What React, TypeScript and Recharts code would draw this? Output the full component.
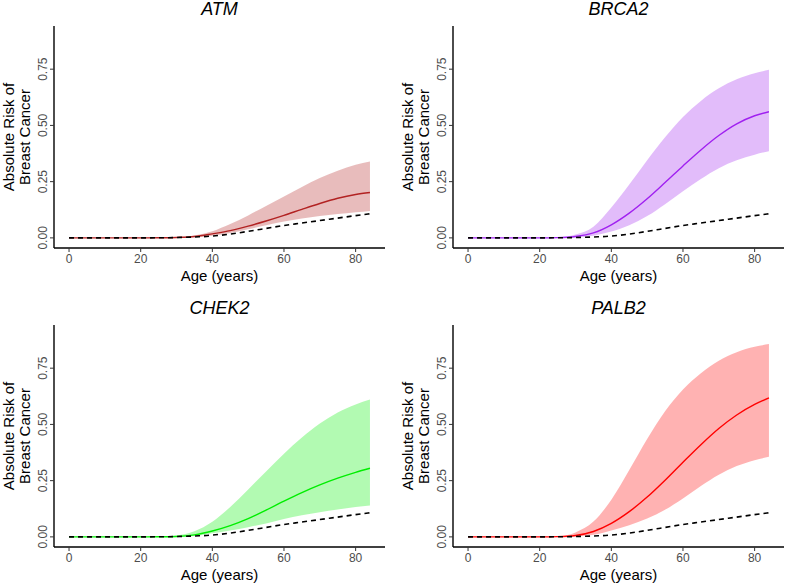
import { ComposedChart, Area, Line, XAxis, YAxis } from "recharts";

// age grid (years)
const ages = [0, 5, 10, 15, 20, 25, 30, 35, 40, 45, 50, 55, 60, 65, 70, 75, 80, 84];

// general population (dashed)
const baseline = [0, 0, 0, 0, 0, 0.0005, 0.0015, 0.004, 0.008, 0.017, 0.029, 0.042, 0.055, 0.066, 0.077, 0.088, 0.099, 0.107];

const atmMid = [0, 0, 0, 0, 0, 0.0005, 0.002, 0.006, 0.018, 0.032, 0.052, 0.075, 0.1, 0.127, 0.153, 0.176, 0.193, 0.202];
const atmLo = [0, 0, 0, 0, 0, 0.0003, 0.001, 0.003, 0.01, 0.022, 0.038, 0.056, 0.073, 0.086, 0.097, 0.106, 0.114, 0.12];
const atmHi = [0, 0, 0, 0, 0, 0.001, 0.003, 0.011, 0.03, 0.062, 0.1, 0.142, 0.184, 0.226, 0.266, 0.298, 0.325, 0.34];

const brca2Mid = [0, 0, 0, 0, 0, 0.001, 0.006, 0.022, 0.058, 0.11, 0.174, 0.246, 0.32, 0.391, 0.455, 0.507, 0.543, 0.561];
const brca2Lo = [0, 0, 0, 0, 0, 0.0005, 0.002, 0.01, 0.028, 0.056, 0.097, 0.15, 0.207, 0.262, 0.31, 0.345, 0.37, 0.385];
const brca2Hi = [0, 0, 0, 0, 0, 0.002, 0.015, 0.05, 0.135, 0.237, 0.345, 0.447, 0.537, 0.609, 0.665, 0.705, 0.732, 0.747];

const chek2Mid = [0, 0, 0, 0, 0, 0.0005, 0.002, 0.009, 0.026, 0.05, 0.081, 0.119, 0.159, 0.197, 0.231, 0.261, 0.287, 0.305];
const chek2Lo = [0, 0, 0, 0, 0, 0.0003, 0.001, 0.004, 0.016, 0.028, 0.043, 0.06, 0.079, 0.096, 0.11, 0.122, 0.133, 0.14];
const chek2Hi = [0, 0, 0, 0, 0, 0.001, 0.006, 0.025, 0.067, 0.133, 0.211, 0.291, 0.37, 0.442, 0.504, 0.553, 0.589, 0.611];

const palb2Mid = [0, 0, 0, 0, 0, 0.001, 0.006, 0.024, 0.06, 0.112, 0.177, 0.252, 0.332, 0.41, 0.482, 0.542, 0.589, 0.618];
const palb2Lo = [0, 0, 0, 0, 0, 0.0005, 0.002, 0.009, 0.028, 0.052, 0.082, 0.121, 0.171, 0.226, 0.276, 0.315, 0.341, 0.356];
const palb2Hi = [0, 0, 0, 0, 0, 0.002, 0.02, 0.068, 0.165, 0.297, 0.435, 0.558, 0.655, 0.728, 0.783, 0.821, 0.845, 0.857];

const xTicks = [0, 20, 40, 60, 80];
const yTicks = [0, 0.25, 0.5, 0.75];

const FONT = "'Liberation Sans', Arial, sans-serif";
const W = 399;
const H = 290;
const PLOT_L = 54;
const PLOT_T = 26;
const PLOT_R = 14;
const X_H = 42;

function YTick(props: any) {
  const { x, y, payload } = props;
  return (
    <text transform={`translate(${x},${y}) rotate(-90)`} textAnchor="middle" fill="#4d4d4d" fontSize={12} fontFamily={FONT}>
      {Number(payload.value).toFixed(2)}
    </text>
  );
}

// axis titles drawn once, over the chart
function AxisTitles() {
  const cx = PLOT_L + (W - PLOT_L - PLOT_R) / 2;
  const cy = PLOT_T + (H - X_H - PLOT_T) / 2;
  return (
    <svg width={W} height={H} style={{ position: "absolute", left: 0, top: 0, pointerEvents: "none" }}>
      <g fontSize={15} fill="#000" fontFamily={FONT}>
        <text x={cx} y={281} textAnchor="middle">Age (years)</text>
        <text transform={`translate(14,${cy}) rotate(-90)`} textAnchor="middle">Absolute Risk of</text>
        <text transform={`translate(30,${cy}) rotate(-90)`} textAnchor="middle">Breast Cancer</text>
      </g>
    </svg>
  );
}

interface PanelProps {
  title: string;
  color: string;
  mid: number[];
  lo: number[];
  hi: number[];
  left: number;
  top: number;
}

function Panel({ title, color, mid, lo, hi, left, top }: PanelProps) {
  const data = ages.map((a, i) => ({ age: a, band: [lo[i], hi[i]], mid: mid[i], base: baseline[i] }));
  return (
    <div style={{ position: "absolute", left, top, width: W, height: H }}>
      <div
        style={{
          position: "absolute",
          left: PLOT_L,
          width: W - PLOT_L - PLOT_R,
          top: 0,
          textAlign: "center",
          fontStyle: "italic",
          fontSize: 18,
          lineHeight: "18px",
          fontFamily: FONT,
        }}
      >
        {title}
      </div>
      <ComposedChart width={W} height={H} data={data} margin={{ top: PLOT_T, right: PLOT_R, bottom: 0, left: 0 }}>
        <XAxis
          dataKey="age"
          type="number"
          domain={[-4.2, 88.2]}
          ticks={xTicks}
          allowDataOverflow
          height={X_H}
          tickSize={4}
          tickMargin={2}
          axisLine={{ stroke: "#000", strokeWidth: 1.4 }}
          tickLine={{ stroke: "#333" }}
          tick={{ fill: "#4d4d4d", fontSize: 12, fontFamily: FONT }}
        />
        <YAxis
          type="number"
          domain={[-0.045, 0.942]}
          ticks={yTicks}
          allowDataOverflow
          width={PLOT_L}
          tickSize={4}
          tickMargin={3}
          axisLine={{ stroke: "#000", strokeWidth: 1.4 }}
          tickLine={{ stroke: "#333" }}
          tick={<YTick />}
        />
        <Area
          dataKey="band"
          type="monotone"
          stroke="none"
          fill={color}
          fillOpacity={0.3}
          dot={false}
          activeDot={false}
          isAnimationActive={false}
        />
        <Line dataKey="mid" type="monotone" stroke={color} strokeWidth={1.4} dot={false} activeDot={false} isAnimationActive={false} />
        <Line
          dataKey="base"
          type="monotone"
          stroke="#000"
          strokeWidth={1.6}
          strokeDasharray="5 4"
          dot={false}
          activeDot={false}
          isAnimationActive={false}
        />
      </ComposedChart>
      <AxisTitles />
    </div>
  );
}

export default function App() {
  return (
    <div
      style={{
        position: "absolute",
        left: 0,
        top: 0,
        width: 785,
        height: 585,
        overflow: "hidden",
        background: "#fff",
        fontFamily: FONT,
      }}
    >
      <Panel title="ATM" color="#B22222" mid={atmMid} lo={atmLo} hi={atmHi} left={0} top={0} />
      <Panel title="BRCA2" color="#A020F0" mid={brca2Mid} lo={brca2Lo} hi={brca2Hi} left={399} top={0} />
      <Panel title="CHEK2" color="#00EE00" mid={chek2Mid} lo={chek2Lo} hi={chek2Hi} left={0} top={299} />
      <Panel title="PALB2" color="#FF0000" mid={palb2Mid} lo={palb2Lo} hi={palb2Hi} left={399} top={299} />
    </div>
  );
}
